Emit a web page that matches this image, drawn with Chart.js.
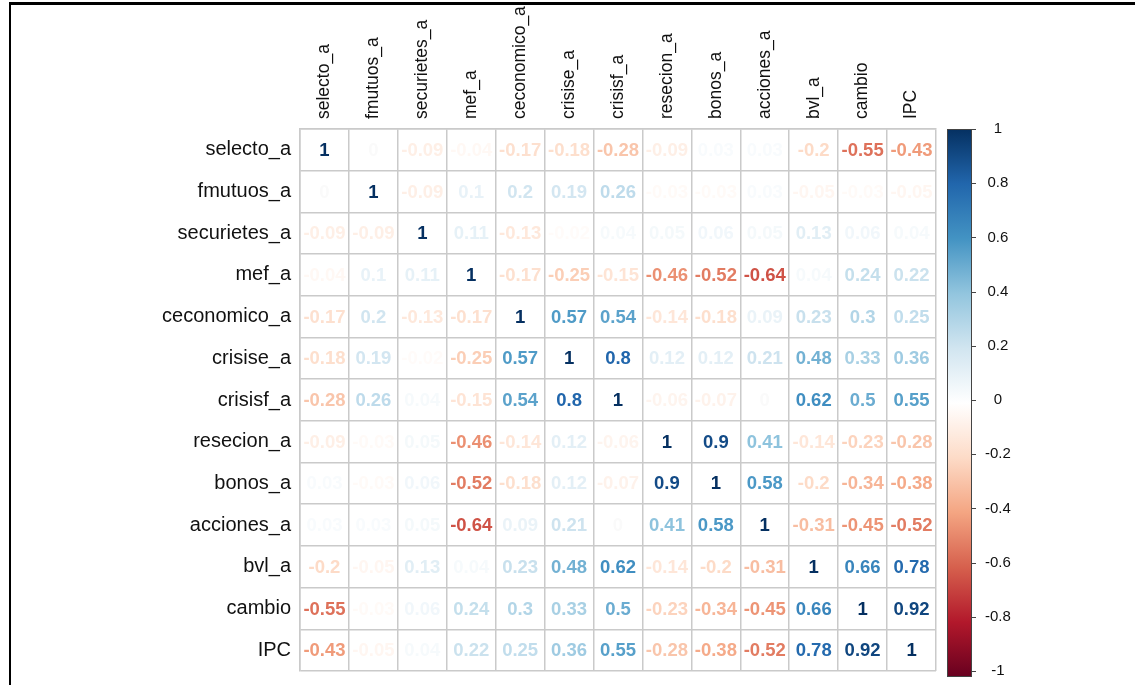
<!DOCTYPE html>
<html>
<head>
<meta charset="utf-8">
<script src="https://cdn.jsdelivr.net/npm/chart.js@4.4.1/dist/chart.umd.min.js"></script>
<style>
  html, body { margin: 0; padding: 0; background: #fff; }
  #wrap { position: absolute; left: 0; top: 0; width: 1135px; height: 685px; }
  #frame {
    position: absolute; left: 9px; top: 2px; width: 1126px; height: 683px;
    border-top: 3px solid #000; border-left: 2px solid #000;
    box-sizing: border-box; pointer-events: none;
  }
</style>
</head>
<body>
<div id="wrap"><canvas id="js-chart" width="1135" height="685"></canvas></div>
<div id="frame"></div>
<script>
'use strict';

const vars = ['selecto_a', 'fmutuos_a', 'securietes_a', 'mef_a', 'ceconomico_a', 'crisise_a',
  'crisisf_a', 'resecion_a', 'bonos_a', 'acciones_a', 'bvl_a', 'cambio', 'IPC'];

// correlation matrix, one row per variable
const rowSelecto = [1, 0, -0.09, -0.04, -0.17, -0.18, -0.28, -0.09, 0.03, 0.03, -0.2, -0.55, -0.43];
const rowFmutuos = [0, 1, -0.09, 0.1, 0.2, 0.19, 0.26, -0.03, -0.03, 0.03, -0.05, -0.03, -0.05];
const rowSecuriet = [-0.09, -0.09, 1, 0.11, -0.13, -0.02, 0.04, 0.05, 0.06, 0.05, 0.13, 0.06, 0.04];
const rowMef = [-0.04, 0.1, 0.11, 1, -0.17, -0.25, -0.15, -0.46, -0.52, -0.64, 0.04, 0.24, 0.22];
const rowCeconomico = [-0.17, 0.2, -0.13, -0.17, 1, 0.57, 0.54, -0.14, -0.18, 0.09, 0.23, 0.3, 0.25];
const rowCrisise = [-0.18, 0.19, -0.02, -0.25, 0.57, 1, 0.8, 0.12, 0.12, 0.21, 0.48, 0.33, 0.36];
const rowCrisisf = [-0.28, 0.26, 0.04, -0.15, 0.54, 0.8, 1, -0.06, -0.07, 0, 0.62, 0.5, 0.55];
const rowResecion = [-0.09, -0.03, 0.05, -0.46, -0.14, 0.12, -0.06, 1, 0.9, 0.41, -0.14, -0.23, -0.28];
const rowBonos = [0.03, -0.03, 0.06, -0.52, -0.18, 0.12, -0.07, 0.9, 1, 0.58, -0.2, -0.34, -0.38];
const rowAcciones = [0.03, 0.03, 0.05, -0.64, 0.09, 0.21, 0, 0.41, 0.58, 1, -0.31, -0.45, -0.52];
const rowBvl = [-0.2, -0.05, 0.13, 0.04, 0.23, 0.48, 0.62, -0.14, -0.2, -0.31, 1, 0.66, 0.78];
const rowCambio = [-0.55, -0.03, 0.06, 0.24, 0.3, 0.33, 0.5, -0.23, -0.34, -0.45, 0.66, 1, 0.92];
const rowIPC = [-0.43, -0.05, 0.04, 0.22, 0.25, 0.36, 0.55, -0.28, -0.38, -0.52, 0.78, 0.92, 1];

const corrRows = [rowSelecto, rowFmutuos, rowSecuriet, rowMef, rowCeconomico, rowCrisise,
  rowCrisisf, rowResecion, rowBonos, rowAcciones, rowBvl, rowCambio, rowIPC];

const colorbarTicks = [-1, -0.8, -0.6, -0.4, -0.2, 0, 0.2, 0.4, 0.6, 0.8, 1];

// RdBu palette used by corrplot, from -1 to 1
const palette = ['#67001F', '#B2182B', '#D6604D', '#F4A582', '#FDDBC7', '#FFFFFF',
  '#D1E5F0', '#92C5DE', '#4393C3', '#2166AC', '#053061'];

const hexToRgb = function(h) {
  return [parseInt(h.slice(1, 3), 16), parseInt(h.slice(3, 5), 16), parseInt(h.slice(5, 7), 16)];
};

const colorFor = function(v) {
  let t = (v + 1) / 2 * (palette.length - 1);
  let i = Math.min(Math.floor(t), palette.length - 2);
  let f = t - i;
  let a = hexToRgb(palette[i]);
  let b = hexToRgb(palette[i + 1]);
  let c = a.map((x, k) => Math.round(x + (b[k] - x) * f));
  if (v === 0) c = [250, 250, 250];
  return `rgb(${c[0]},${c[1]},${c[2]})`;
};

let points = [];
for (let i = 0; i < vars.length; i++) {
  for (let j = 0; j < vars.length; j++) {
    points.push({ x: vars[j], y: vars[i], v: corrRows[i][j] });
  }
}

// draws the numbers at each point, and the colour bar next to the grid
const corrPlugin = {
  id: 'corrNumbers',
  afterDatasetsDraw(chart) {
    const ctx = chart.ctx;
    const meta = chart.getDatasetMeta(0);
    const raw = chart.data.datasets[0].data;
    ctx.save();
    ctx.font = 'bold 18.5px "Liberation Sans", Arial, sans-serif';
    ctx.textAlign = 'center';
    ctx.textBaseline = 'middle';
    meta.data.forEach(function(pt, k) {
      let v = raw[k].v;
      ctx.fillStyle = colorFor(v);
      ctx.fillText(String(v), pt.x, pt.y + 1);
    });

    // colour bar
    const cb = chart.scales.cb;
    const x0 = cb.left + 11;
    const x1 = x0 + 25;
    const yTop = cb.getPixelForValue(1);
    const yBot = cb.getPixelForValue(-1) + 6;
    const grad = ctx.createLinearGradient(0, yBot, 0, yTop);
    palette.forEach((c, k) => grad.addColorStop(k / (palette.length - 1), c));
    ctx.fillStyle = grad;
    ctx.fillRect(x0, yTop, x1 - x0, yBot - yTop);
    ctx.strokeStyle = '#444';
    ctx.lineWidth = 1;
    ctx.strokeRect(x0 + 0.5, yTop + 0.5, x1 - x0 - 1, yBot - yTop - 1);
    for (let t of colorbarTicks) {
      let y = Math.round(cb.getPixelForValue(t)) + 0.5;
      ctx.beginPath();
      ctx.moveTo(x1, y);
      ctx.lineTo(x1 + 4, y);
      ctx.stroke();
    }
    ctx.restore();
  }
};

let ctx = document.getElementById('js-chart').getContext('2d');
let myChart = new Chart(ctx, {
  type: 'scatter',
  data: {
    datasets: [
      {
        data: points,
        pointRadius: 0,
        pointHoverRadius: 0,
        backgroundColor: 'rgba(0,0,0,0)',
        borderColor: 'rgba(0,0,0,0)'
      }
    ]
  },
  options: {
    responsive: false,
    animation: false,
    layout: { padding: { top: 0, left: 0, right: 0, bottom: 14 } },
    plugins: { legend: { display: false }, tooltip: { enabled: false } },
    scales: {
      x: {
        type: 'category',
        labels: vars,
        position: 'top',
        offset: true,
        grid: { offset: true, color: '#cacaca', lineWidth: 1.5, drawTicks: false },
        border: { color: '#cacaca', width: 1.5 },
        ticks: {
          autoSkip: false,
          minRotation: 90,
          maxRotation: 90,
          padding: 10,
          labelOffset: 21,
          color: '#111',
          font: { family: '"Liberation Sans", Arial, sans-serif', size: 17.5 }
        },
        afterFit: function(scale) { scale.height = 129; }
      },
      y: {
        type: 'category',
        labels: vars,
        position: 'left',
        offset: true,
        grid: { offset: true, color: '#cacaca', lineWidth: 1.5, drawTicks: false },
        border: { color: '#cacaca', width: 1.5 },
        ticks: {
          autoSkip: false,
          padding: 9,
          color: '#111',
          font: { family: '"Liberation Sans", Arial, sans-serif', size: 20 }
        },
        afterFit: function(scale) {
          scale.width = 300;
          scale.paddingTop = 0;
          scale.paddingBottom = 0;
        }
      },
      cb: {
        type: 'linear',
        position: 'right',
        min: -1,
        max: 1,
        grid: { display: false, drawTicks: false, drawOnChartArea: false },
        border: { display: false },
        ticks: {
          stepSize: 0.2,
          crossAlign: 'center',
          padding: 49,
          color: '#111',
          font: { family: '"Liberation Sans", Arial, sans-serif', size: 15 },
          callback: function(v) { return String(Math.round(v * 10) / 10); }
        },
        afterFit: function(scale) {
          scale.width = 199;
          // the big label padding should not push the grid up from the bottom
          scale.paddingTop = 0;
          scale.paddingBottom = 0;
        }
      }
    }
  },
  plugins: [corrPlugin]
});
</script>
</body>
</html>
